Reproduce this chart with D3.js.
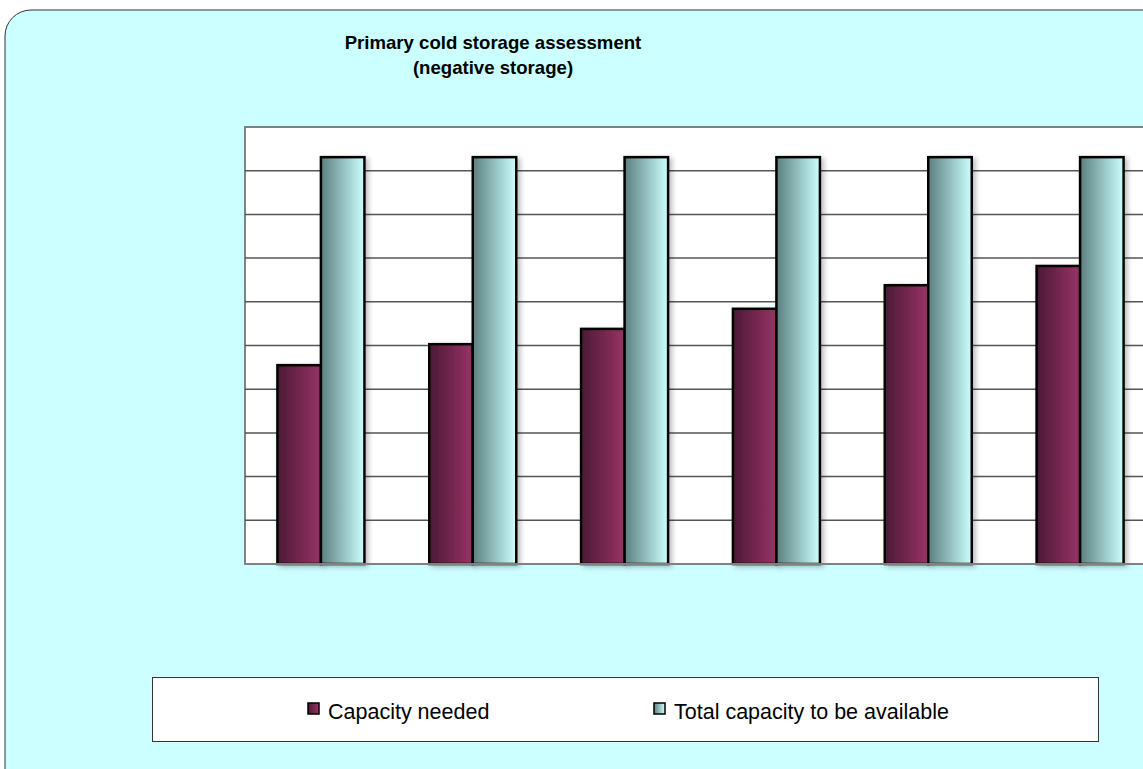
<!DOCTYPE html>
<html>
<head>
<meta charset="utf-8">
<script src="https://cdn.jsdelivr.net/npm/d3@7/dist/d3.min.js"></script>
<style>
  html, body { margin: 0; padding: 0; background: #ffffff; }
  svg { display: block; }
</style>
</head>
<body>
<svg id="chart" width="1143" height="769"></svg>
<script>
// Assessment periods and capacities (units of the grid scale)
const categories = ["Period 1", "Period 2", "Period 3", "Period 4", "Period 5", "Period 6"];
const capacityNeeded = [4.55, 5.03, 5.38, 5.84, 6.38, 6.82];
const totalAvailable = [9.31, 9.31, 9.31, 9.31, 9.31, 9.31];
const seriesNames = ["Capacity needed", "Total capacity to be available"];
const yTicks = [0, 1, 2, 3, 4, 5, 6, 7, 8, 9, 10];

const svg = d3.select("#chart");
const defs = svg.append("defs");

// Horizontal shading for each series
function addGradient(id, from, to) {
  const g = defs.append("linearGradient").attr("id", id)
    .attr("x1", "0%").attr("x2", "100%").attr("y1", "0%").attr("y2", "0%");
  g.append("stop").attr("offset", "0%").attr("stop-color", from);
  g.append("stop").attr("offset", "100%").attr("stop-color", to);
}
addGradient("gradNeeded", "#4b1a35", "#993366");
addGradient("gradTotal", "#5c7f7f", "#ccffff");

const shadow = defs.append("filter").attr("id", "barShadow")
  .attr("x", "-20%").attr("y", "-10%").attr("width", "150%").attr("height", "130%");
shadow.append("feDropShadow").attr("dx", 3).attr("dy", 2).attr("stdDeviation", 2.5)
  .attr("flood-color", "#000").attr("flood-opacity", 0.25);

// Chart background panel with rounded corners
svg.append("rect")
  .attr("x", 5).attr("y", 10).attr("width", 1180).attr("height", 790)
  .attr("rx", 26).attr("ry", 26)
  .attr("fill", "#ccffff").attr("stroke", "#333").attr("stroke-width", 1);

// Title
const title = svg.append("text")
  .attr("text-anchor", "middle")
  .attr("font-family", "Liberation Sans, Arial, sans-serif")
  .attr("font-weight", "bold").attr("font-size", 18.6).attr("fill", "#000");
title.append("tspan").attr("x", 493).attr("y", 49).text("Primary cold storage assessment");
title.append("tspan").attr("x", 493).attr("y", 74).text("(negative storage)");

// Plot area
const plot = { left: 245, top: 127, bottom: 564, width: 911 };
const x = d3.scaleBand().domain(categories).range([plot.left, plot.left + plot.width]).paddingInner(0).paddingOuter(0);
const y = d3.scaleLinear().domain([0, 10]).range([plot.bottom, plot.top]);
const groupWidth = 87;
const xs = d3.scaleBand().domain(seriesNames).range([0, groupWidth]);

svg.append("rect")
  .attr("x", plot.left).attr("y", plot.top)
  .attr("width", plot.width).attr("height", plot.bottom - plot.top)
  .attr("fill", "#ffffff").attr("stroke", "#808080").attr("stroke-width", 2);

// Gridlines
svg.append("g").selectAll("line")
  .data(yTicks.filter(t => t > 0 && t < 10))
  .join("line")
  .attr("x1", plot.left).attr("x2", plot.left + plot.width)
  .attr("y1", d => y(d)).attr("y2", d => y(d))
  .attr("stroke", "#555").attr("stroke-width", 1.5);

// Bars
const series = [
  { name: seriesNames[0], values: capacityNeeded, fill: "url(#gradNeeded)" },
  { name: seriesNames[1], values: totalAvailable, fill: "url(#gradTotal)" }
];
const groups = svg.append("g").selectAll("g")
  .data(categories)
  .join("g")
  .attr("transform", d => `translate(${x(d) + (x.bandwidth() - groupWidth) / 2},0)`);

groups.selectAll("rect")
  .data((c, i) => series.map(s => ({ name: s.name, fill: s.fill, value: s.values[i] })))
  .join("rect")
  .attr("x", d => xs(d.name))
  .attr("width", xs.bandwidth())
  .attr("y", d => y(d.value))
  .attr("height", d => y(0) - y(d.value))
  .attr("fill", d => d.fill)
  .attr("stroke", "#000").attr("stroke-width", 2.5)
  .attr("filter", "url(#barShadow)");

// Bottom border of plot drawn over bar shadows
svg.append("line")
  .attr("x1", plot.left).attr("x2", plot.left + plot.width)
  .attr("y1", plot.bottom).attr("y2", plot.bottom)
  .attr("stroke", "#808080").attr("stroke-width", 2);

// Legend
svg.append("rect")
  .attr("x", 152.5).attr("y", 677.5).attr("width", 946).attr("height", 64)
  .attr("fill", "#ffffff").attr("stroke", "#333").attr("stroke-width", 1);

const legendPos = [308, 654];
const legend = svg.append("g").selectAll("g")
  .data(series)
  .join("g")
  .attr("transform", (d, i) => `translate(${legendPos[i]},703)`);
legend.append("rect")
  .attr("width", 11).attr("height", 11)
  .attr("fill", d => d.fill).attr("stroke", "#000").attr("stroke-width", 1.5);
legend.append("text")
  .attr("x", 20).attr("y", 16)
  .attr("font-family", "Liberation Sans, Arial, sans-serif")
  .attr("font-size", 21.5).attr("fill", "#000")
  .text(d => d.name);
</script>
</body>
</html>
